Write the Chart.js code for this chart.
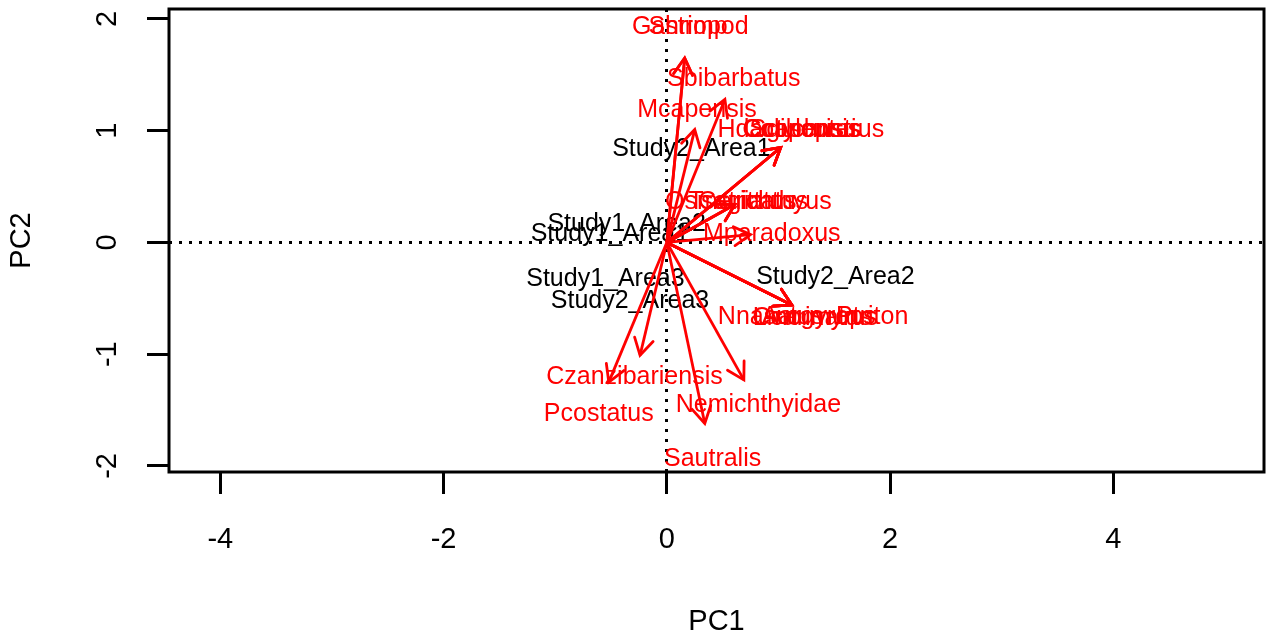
<!DOCTYPE html>
<html>
<head>
<meta charset="utf-8">
<style>
  html, body { margin: 0; padding: 0; background: #fff; }
</style>
<script src="https://cdn.jsdelivr.net/npm/chart.js@4.4.1/dist/chart.umd.min.js"></script>
</head>
<body>
<canvas id="biplot" width="1269" height="641"></canvas>
<script>
// axis ticks
const xTicks = [-4, -2, 0, 2, 4];
const yTicks = [-2, -1, 0, 1, 2];

// site scores (black labels)
const siteNames = ['Study1_Area1', 'Study1_Area2', 'Study1_Area3', 'Study2_Area1', 'Study2_Area2', 'Study2_Area3'];
const siteX = [-0.51, -0.36, -0.55, 0.22, 1.51, -0.33];
const siteY = [0.095, 0.18, -0.31, 0.855, -0.29, -0.51];

// species loadings: arrow tips and label positions
const varNames = ['Gastropod', 'Shrimp', 'Sbibarbatus', 'Mcapensis', 'Hdactylopterus', 'Cobscurus', 'Sgilchristi', 'Ccapensis',
                  'Osmerichthyus', 'Tsagittatus', 'Cstriatus', 'Mparadoxus', 'Pcostatus', 'Czanzibariensis', 'Sautralis',
                  'Nemichthyidae', 'Nnasutus', 'Ccarinatus', 'Lmormyrus', 'Aargyrops', 'Ptriton'];
const arrowX = [0.16, 0.16, 0.52, 0.25, 1.02, 1.02, 1.02, 1.02, 0.61, 0.61, 0.61, 0.75, -0.52, -0.24, 0.34, 0.69, 1.12, 1.12, 1.12, 1.12, 1.12];
const arrowY = [1.65, 1.65, 1.28, 1.01, 0.85, 0.85, 0.85, 0.85, 0.34, 0.34, 0.34, 0.07, -1.25, -1.01, -1.62, -1.23, -0.56, -0.56, -0.56, -0.56, -0.56];
const labelX = [0.21, 0.19, 0.60, 0.27, 1.20, 1.21, 1.22, 1.21, 0.73, 0.73, 0.72, 0.94, -0.61, -0.29, 0.41, 0.82, 0.93, 1.30, 1.33, 1.36, 1.84];
const labelY = [1.95, 1.95, 1.48, 1.20, 1.02, 1.02, 1.02, 1.02, 0.38, 0.38, 0.38, 0.09, -1.52, -1.19, -1.92, -1.44, -0.65, -0.66, -0.66, -0.65, -0.65];

const FONT = '"Liberation Sans", Arial, Helvetica, sans-serif';
const RED = '#ff0000';
const LABEL_SIZE = 25;
const AXIS_SIZE = 29;

const arrowSets = varNames.map((name, i) => ({
    label: name,
    data: [{ x: 0, y: 0 }, { x: arrowX[i], y: arrowY[i] }],
    showLine: true,
    borderColor: RED,
    borderWidth: 2.8,
    pointRadius: 0,
    fill: false
}));

function drawText(ctx, text, px, py, size, color) {
    ctx.font = size + 'px ' + FONT;
    ctx.fillStyle = color;
    ctx.textAlign = 'center';
    ctx.textBaseline = 'alphabetic';
    ctx.fillText(text, px, py + size * 0.36);
}

const biplotMarks = {
    id: 'biplotMarks',
    beforeDatasetsDraw(chart) {
        const { ctx, scales: { x, y } } = chart;
        ctx.save();
        siteNames.forEach((s, i) => drawText(ctx, s, x.getPixelForValue(siteX[i]), y.getPixelForValue(siteY[i]), LABEL_SIZE, '#000'));
        varNames.forEach((s, i) => drawText(ctx, s, x.getPixelForValue(labelX[i]), y.getPixelForValue(labelY[i]), LABEL_SIZE, RED));
        ctx.restore();
    },
    afterDatasetsDraw(chart) {
        const { ctx } = chart;
        ctx.save();
        ctx.strokeStyle = RED;
        ctx.lineWidth = 2.8;
        ctx.lineCap = 'round';
        chart.data.datasets.forEach((ds, i) => {
            const pts = chart.getDatasetMeta(i).data;
            const a = pts[0], b = pts[1];
            const ang = Math.atan2(b.y - a.y, b.x - a.x);
            const len = 19, spread = Math.PI / 6;
            ctx.beginPath();
            ctx.moveTo(b.x - len * Math.cos(ang - spread), b.y - len * Math.sin(ang - spread));
            ctx.lineTo(b.x, b.y);
            ctx.lineTo(b.x - len * Math.cos(ang + spread), b.y - len * Math.sin(ang + spread));
            ctx.stroke();
        });
        ctx.restore();
    },
    afterDraw(chart) {
        const { ctx, chartArea: area, scales: { y } } = chart;
        ctx.save();
        // plot box
        ctx.strokeStyle = '#000';
        ctx.lineWidth = 3;
        ctx.strokeRect(area.left, area.top, area.right - area.left, area.bottom - area.top);
        // y tick labels, parallel to the axis
        ctx.font = AXIS_SIZE + 'px ' + FONT;
        ctx.fillStyle = '#000';
        ctx.textAlign = 'center';
        ctx.textBaseline = 'middle';
        y.ticks.forEach(t => {
            ctx.save();
            ctx.translate(108, y.getPixelForValue(t.value));
            ctx.rotate(-Math.PI / 2);
            ctx.fillText(String(t.value), 0, 0);
            ctx.restore();
        });
        ctx.restore();
    }
};

// only the zero lines are drawn, dotted; tick marks stay solid
const zeroGrid = {
    color: c => (c.tick && c.tick.value === 0 ? '#000' : 'rgba(0,0,0,0)'),
    lineWidth: 3,
    drawTicks: true,
    tickLength: 22,
    tickColor: '#000',
    tickWidth: 3,
    tickBorderDash: []
};
const dottedBorder = { display: false, dash: [3, 7] };

new Chart(document.getElementById('biplot'), {
    type: 'scatter',
    data: { datasets: arrowSets },
    options: {
        responsive: false,
        animation: false,
        devicePixelRatio: 1,
        layout: { padding: { top: 9, right: 5, left: 0, bottom: 0 } },
        plugins: { legend: { display: false }, tooltip: { enabled: false } },
        scales: {
            x: {
                type: 'linear',
                min: -4.46,
                max: 5.35,
                afterBuildTicks: s => { s.ticks = xTicks.map(v => ({ value: v })); },
                afterFit: s => { s.height = 169; },
                border: dottedBorder,
                grid: zeroGrid,
                ticks: { color: '#000', font: { family: FONT, size: AXIS_SIZE }, padding: 29, maxRotation: 0 },
                title: { display: true, text: 'PC1', color: '#000', font: { family: FONT, size: AXIS_SIZE }, padding: { top: 0, bottom: 2 } }
            },
            y: {
                type: 'linear',
                min: -2.054,
                max: 2.089,
                afterBuildTicks: s => { s.ticks = yTicks.map(v => ({ value: v })); },
                afterFit: s => { s.width = 169; },
                border: dottedBorder,
                grid: zeroGrid,
                ticks: { display: false },
                title: { display: true, text: 'PC2', color: '#000', font: { family: FONT, size: AXIS_SIZE }, padding: { top: 5, bottom: 0 } }
            }
        }
    },
    plugins: [biplotMarks]
});
</script>
</body>
</html>
